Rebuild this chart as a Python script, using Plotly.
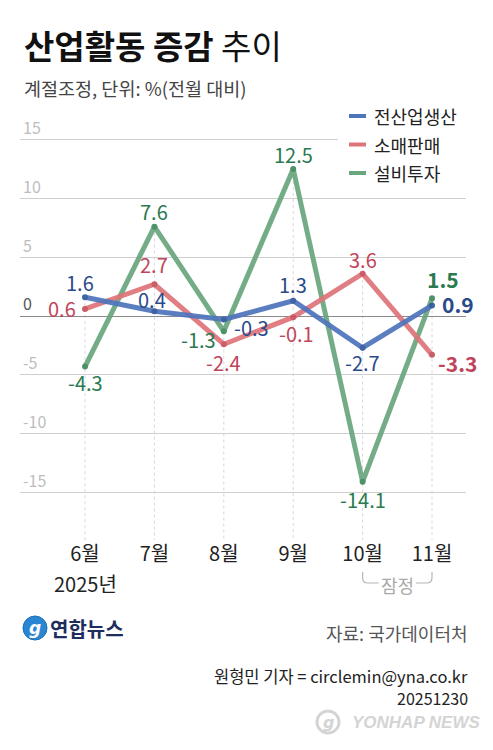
import plotly.graph_objects as go

# data
months = ["6월", "7월", "8월", "9월", "10월", "11월"]
production = [1.6, 0.4, -0.3, 1.3, -2.7, 0.9]     # 전산업생산
retail = [0.6, 2.7, -2.4, -0.1, 3.6, -3.3]         # 소매판매
investment = [-4.3, 7.6, -1.3, 12.5, -14.1, 1.5]   # 설비투자
y_ticks = [15, 10, 5, 0, -5, -10, -15]

FONT = "Noto Sans CJK KR"
W, H = 493, 750
L, R, T, B = 20, 27, 100, 210
x = list(range(len(months)))
x_range = [-0.937, 5.49]
y_range = [-19.05, 18.37]


def px(v):
    # figure pixel -> paper x
    return (v - L) / (W - L - R)


def py(v):
    # figure pixel -> paper y
    return (H - B - v) / (H - T - B)


def xp(v):
    return (v - x_range[0]) / (x_range[1] - x_range[0])


series = [
    # name, values, line, marker, label colour, label offsets per point (xanchor, xshift, yshift)
    ("설비투자", investment, "#6aa67e", "#3f8a5c", "#2b7a50",
     [("center", 0, -16), ("center", 0, 15), ("right", -6, -8),
      ("center", 0, 15), ("center", 0, -18), ("center", 11, 19)]),
    ("소매판매", retail, "#de7479", "#c9505c", "#c0455a",
     [("right", -7, 0), ("center", 0, 20), ("center", 0, -18),
      ("center", 3, -16), ("center", 0, 14), ("left", 4, -8)]),
    ("전산업생산", production, "#4e74bc", "#30589e", "#2b4a8a",
     [("center", -5, 15), ("center", -2, 12), ("left", 8, -8),
      ("center", 0, 16), ("center", 0, -15), ("left", 8, 1)]),
]

fig = go.Figure()

# vertical dotted guides from the top point of each month down to the bottom
for i in x:
    top = max(production[i], retail[i], investment[i])
    fig.add_shape(type="line", xref="x", yref="y", x0=i, x1=i, y0=top, y1=y_range[0],
                  line=dict(color="#d8d8d8", width=1, dash="dot"), layer="below")

annotations = []
for name, vals, lc, mc, tc, offs in series:
    fig.add_trace(go.Scatter(
        x=x, y=vals, name=name, mode="lines+markers",
        line=dict(color=lc, width=5), marker=dict(color=mc, size=6),
        opacity=0.92, hoverinfo="skip", showlegend=False,
    ))
    for i, v in enumerate(vals):
        xa, xs, ys = offs[i]
        last = i == len(vals) - 1
        annotations.append(dict(
            x=i, y=v, xref="x", yref="y", showarrow=False,
            text=f"<b>{v}</b>" if last else f"{v}",
            xanchor=xa, yanchor="middle", xshift=xs, yshift=ys,
            font=dict(family=FONT, size=21 if last else 20, color=tc),
        ))

# hand-made legend (short line keys), white box hides the 15 gridline behind it
fig.add_shape(type="rect", xref="paper", yref="paper", x0=px(338), x1=1.0,
              y0=py(188), y1=py(100), fillcolor="white", line=dict(width=0), layer="above")
for k, (name, lc) in enumerate([("전산업생산", "#4e74bc"), ("소매판매", "#de7479"),
                                ("설비투자", "#6aa67e")]):
    yy = py(116 + 28.5 * k)
    fig.add_shape(type="line", xref="paper", yref="paper", x0=px(349), x1=px(366),
                  y0=yy, y1=yy, line=dict(color=lc, width=4), layer="above")
    annotations.append(dict(x=px(372), y=yy, xref="paper", yref="paper", showarrow=False,
                            text=name, xanchor="left", yanchor="middle",
                            font=dict(family=FONT, size=18, color="#222")))

tick_text = [f"<span style='color:#555'>{t}</span>" if t == 0 else str(t) for t in y_ticks]

# title and notes
annotations += [
    dict(x=px(22), y=py(45), xref="paper", yref="paper", showarrow=False,
         text="<b>산업활동 증감</b> 추이",
         xanchor="left", yanchor="middle",
         font=dict(family=FONT, size=33, color="#111")),
    dict(x=px(22), y=py(88), xref="paper", yref="paper", showarrow=False,
         text="계절조정, 단위: %(전월 대비)", xanchor="left", yanchor="middle",
         font=dict(family=FONT, size=18.5, color="#444")),
    dict(x=0, y=py(583), xref="x", yref="paper", showarrow=False,
         text="2025년", xanchor="center", yanchor="middle",
         font=dict(family=FONT, size=20, color="#222")),
    dict(x=4.5, y=py(585), xref="x", yref="paper", showarrow=False,
         text="잠정", xanchor="center", yanchor="middle",
         font=dict(family=FONT, size=18, color="#aaa")),
    dict(x=px(48), y=py(628), xref="paper", yref="paper", showarrow=False,
         text="<b>연합뉴스</b>", xanchor="left", yanchor="middle",
         font=dict(family=FONT, size=20, color="#1c2d5e")),
    dict(x=px(35), y=py(628), xref="paper", yref="paper", showarrow=False,
         text="<i><b>g</b></i>", xanchor="center", yanchor="middle",
         font=dict(family="DejaVu Sans", size=17, color="white")),
    dict(x=px(470), y=py(633), xref="paper", yref="paper", showarrow=False,
         text="자료: 국가데이터처", xanchor="right", yanchor="middle",
         font=dict(family=FONT, size=18, color="#555")),
    dict(x=px(470), y=py(676), xref="paper", yref="paper", showarrow=False,
         text="원형민 기자 = circlemin@yna.co.kr", xanchor="right", yanchor="middle",
         font=dict(family=FONT, size=16.5, color="#222")),
    dict(x=px(470), y=py(698), xref="paper", yref="paper", showarrow=False,
         text="20251230", xanchor="right", yanchor="middle",
         font=dict(family=FONT, size=16, color="#222")),
    dict(x=px(482), y=py(722), xref="paper", yref="paper", showarrow=False,
         text="<b><i>YONHAP NEWS</i></b>", xanchor="right", yanchor="middle",
         font=dict(family="Liberation Sans", size=17, color="#d4d4d4")),
    dict(x=px(328), y=py(722), xref="paper", yref="paper", showarrow=False,
         text="<i><b>g</b></i>", xanchor="center", yanchor="middle",
         font=dict(family="DejaVu Sans", size=16, color="#d4d4d4")),
]

# bracket under 10월-11월 (잠정)
yt, yb = py(572), py(583)
xa, xb = xp(4), xp(5)
xl, xr = xp(4.23), xp(4.77)
d = 0.012
bracket = (f"M {xa},{yt} L {xa},{yb + 0.012} Q {xa},{yb} {xa + d},{yb} L {xl},{yb} "
           f"M {xr},{yb} L {xb - d},{yb} Q {xb},{yb} {xb},{yb + 0.012} L {xb},{yt}")
fig.add_shape(type="path", xref="paper", yref="paper", path=bracket,
              line=dict(color="#b5b5b5", width=1.2))

# logo circles
fig.add_shape(type="circle", xref="paper", yref="paper",
              x0=px(23), x1=px(47), y0=py(640), y1=py(616),
              fillcolor="#2a86d2", line=dict(color="#1d6fb8", width=1))
fig.add_shape(type="circle", xref="paper", yref="paper",
              x0=px(317), x1=px(339), y0=py(733), y1=py(711),
              fillcolor="rgba(0,0,0,0)", line=dict(color="#d4d4d4", width=3))

fig.update_layout(
    width=W, height=H,
    margin=dict(l=L, r=R, t=T, b=B, autoexpand=False),
    paper_bgcolor="white", plot_bgcolor="white",
    font=dict(family=FONT, color="#222"),
    showlegend=False,
    annotations=annotations,
    xaxis=dict(range=x_range, tickvals=x, ticktext=months, showgrid=False,
               zeroline=False, showline=False, ticks="", automargin=False,
               tickfont=dict(family=FONT, size=20, color="#222")),
    yaxis=dict(range=y_range, tickvals=y_ticks, ticktext=tick_text,
               ticklabelposition="inside top", showgrid=True, gridcolor="#cfcfcf",
               gridwidth=1, zeroline=True, zerolinecolor="#8a8a8a", zerolinewidth=1,
               showline=False, ticks="", automargin=False,
               tickfont=dict(family=FONT, size=16, color="#bdbdbd")),
)

# page body has a default 8px margin; drop it so the figure sits at the window corner
fig.write_html("out.html", config={"displayModeBar": False},
               post_script="document.body.style.margin='0';")
